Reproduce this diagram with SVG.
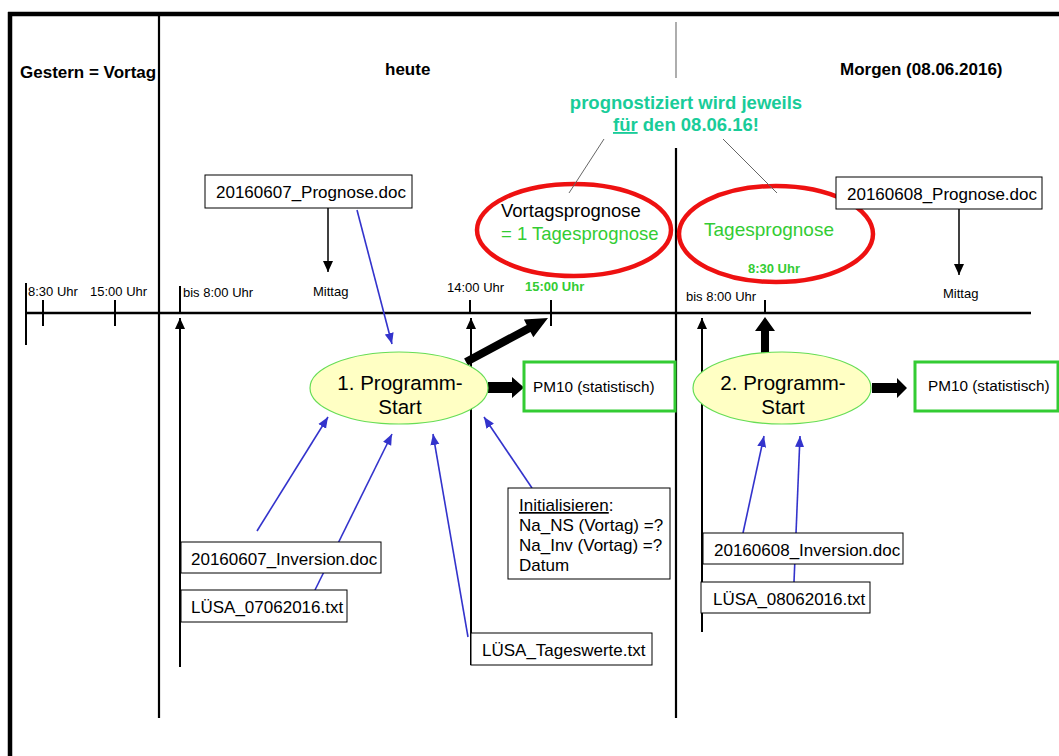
<svg xmlns="http://www.w3.org/2000/svg" width="1059" height="756" viewBox="0 0 1059 756">
  <defs>
    <marker id="arrowBlack" markerUnits="userSpaceOnUse" markerWidth="12" markerHeight="10" refX="11" refY="5" orient="auto">
      <path d="M0,0 L11,5 L0,10 Z" fill="#000"/>
    </marker>
    <marker id="arrowBlue" markerUnits="userSpaceOnUse" markerWidth="12" markerHeight="10" refX="11" refY="5" orient="auto">
      <path d="M0,0.5 L11,5 L0,9.5 Z" fill="#3333cc"/>
    </marker>
    <style>
      text { font-family: "Liberation Sans", Arial, sans-serif; fill: #000; }
      .hdr { font-size: 17px; font-weight: bold; }
      .time { font-size: 13px; }
      .file { font-size: 17px; }
      .greenBold { fill: #33cc33; font-weight: bold; font-size: 13px; }
      .teal { fill: #19cc99; font-weight: bold; font-size: 18.5px; }
      .box { fill: #fff; stroke: #000; stroke-width: 1; }
      .pm { fill: #fff; stroke: #33cc33; stroke-width: 3; }
      .prog { fill: #ffffc4; stroke: #66dd55; stroke-width: 1.2; }
      .red { fill: none; stroke: #ee1111; stroke-width: 4.5; }
      .blue { stroke: #3333cc; stroke-width: 1.6; fill: none; marker-end: url(#arrowBlue); }
      .thin { stroke: #666; stroke-width: 1; fill: none; }
    </style>
  </defs>

  <rect width="1059" height="756" fill="#fff"/>

  <!-- frame and day dividers -->
  <g id="frame" stroke="#000" fill="none">
    <line x1="8" y1="14" x2="1059" y2="14" stroke-width="4.5"/>
    <line x1="10" y1="12" x2="10" y2="756" stroke-width="4.5"/>
    <line x1="159" y1="14" x2="159" y2="718" stroke-width="2.2"/>
    <line x1="676" y1="22" x2="676" y2="78" stroke="#777" stroke-width="1.2"/>
    <line x1="676" y1="148" x2="676" y2="718" stroke-width="2.2"/>
  </g>

  <!-- day headings -->
  <g id="headings">
    <text class="hdr" x="20" y="78">Gestern = Vortag</text>
    <text class="hdr" x="385" y="75">heute</text>
    <text class="hdr" x="840" y="75">Morgen (08.06.2016)</text>
    <text class="teal" x="686" y="109" text-anchor="middle">prognostiziert wird jeweils</text>
    <text class="teal" x="686" y="131" text-anchor="middle"><tspan text-decoration="underline">für</tspan> den 08.06.16!</text>
  </g>

  <!-- time axis -->
  <g id="timeline" stroke="#000" fill="none">
    <line x1="25" y1="313" x2="1031" y2="313" stroke-width="2.5"/>
    <line x1="26" y1="283" x2="26" y2="345" stroke-width="2"/>
    <line x1="43" y1="300" x2="43" y2="326" stroke-width="2"/>
    <line x1="115" y1="300" x2="115" y2="326" stroke-width="2"/>
    <line x1="180" y1="286" x2="180" y2="313" stroke-width="2"/>
    <line x1="470" y1="300" x2="470" y2="313" stroke-width="2"/>
    <line x1="551" y1="300" x2="551" y2="326" stroke-width="2"/>
    <line x1="765" y1="300" x2="765" y2="313" stroke-width="2"/>
  </g>
  <g id="timeLabels">
    <text class="time" x="28" y="296">8:30 Uhr</text>
    <text class="time" x="90" y="296">15:00 Uhr</text>
    <text class="time" x="183" y="297">bis 8:00 Uhr</text>
    <text class="time" x="313" y="296">Mittag</text>
    <text class="time" x="447" y="292">14:00 Uhr</text>
    <text class="greenBold" x="525" y="291">15:00 Uhr</text>
    <text class="time" x="686" y="301">bis 8:00 Uhr</text>
    <text class="time" x="943" y="298">Mittag</text>
  </g>

  <!-- forecast callouts -->
  <g id="vortagsprognose">
    <ellipse class="red" cx="574" cy="230" rx="97" ry="46"/>
    <text x="501" y="217" font-size="18.5">Vortagsprognose</text>
    <text x="501" y="240" font-size="18.5" style="fill:#33cc33">= 1 Tagesprognose</text>
  </g>
  <g id="tagesprognose">
    <ellipse class="red" cx="776" cy="234" rx="97" ry="48"/>
    <text x="769" y="236" font-size="19" text-anchor="middle" style="fill:#33cc33">Tagesprognose</text>
    <text class="greenBold" x="774" y="273" text-anchor="middle" font-size="12.5">8:30 Uhr</text>
  </g>

  <!-- file and info boxes -->
  <g id="prognose0607">
    <rect class="box" x="205" y="175" width="207" height="33"/>
    <text class="file" x="216" y="198">20160607_Prognose.doc</text>
  </g>
  <g id="prognose0608">
    <rect class="box" x="836" y="177" width="206" height="32"/>
    <text class="file" x="847" y="200">20160608_Prognose.doc</text>
  </g>

  <!-- connectors -->
  <g id="connectors">
    <line x1="604" y1="139" x2="569" y2="193" class="thin"/>
    <line x1="723" y1="139" x2="777" y2="193" class="thin"/>
    <line x1="328" y1="208" x2="328" y2="272" stroke="#000" stroke-width="1.5" marker-end="url(#arrowBlack)"/>
    <line x1="959" y1="209" x2="959" y2="275" stroke="#000" stroke-width="1.5" marker-end="url(#arrowBlack)"/>
    <line x1="180" y1="667" x2="180" y2="318" stroke="#000" stroke-width="2" marker-end="url(#arrowBlack)"/>
    <line x1="471" y1="665" x2="471" y2="318" stroke="#000" stroke-width="2" marker-end="url(#arrowBlack)"/>
    <line x1="702" y1="632" x2="702" y2="318" stroke="#000" stroke-width="2" marker-end="url(#arrowBlack)"/>
    <polygon points="467.9,365.5 530.5,331.9 533.3,337.2 548,318 523.9,319.6 526.7,324.9 464.1,358.5" fill="#000"/>
    <polygon points="488,382 512,382 512,377 524,387.5 512,398 512,393 488,393" fill="#000"/>
    <polygon points="872,383 897,383 897,378 907,388 897,398 897,393 872,393" fill="#000"/>
    <polygon points="761,353 761,331 755,331 765,317 775,331 769,331 769,353" fill="#000"/>
    <line x1="357" y1="210" x2="392" y2="344" class="blue"/>
    <line x1="257" y1="531" x2="328" y2="417" class="blue"/>
    <line x1="315" y1="590" x2="392" y2="434" class="blue"/>
    <line x1="468" y1="637" x2="433" y2="434" class="blue"/>
    <line x1="532" y1="488" x2="484" y2="417" class="blue"/>
    <line x1="743" y1="533" x2="764" y2="436" class="blue"/>
    <line x1="794" y1="582" x2="800" y2="436" class="blue"/>
  </g>

  <g id="start1">
    <ellipse class="prog" cx="399" cy="388" rx="89" ry="36"/>
    <text x="400" y="390" font-size="20.5" text-anchor="middle">1. Programm-</text>
    <text x="400" y="414" font-size="20.5" text-anchor="middle">Start</text>
  </g>
  <g id="start2">
    <ellipse class="prog" cx="782" cy="388" rx="89" ry="36"/>
    <text x="783" y="390" font-size="20.5" text-anchor="middle">2. Programm-</text>
    <text x="783" y="414" font-size="20.5" text-anchor="middle">Start</text>
  </g>
  <g id="pm10a">
    <rect class="pm" x="524" y="362" width="151" height="49"/>
    <text x="533" y="392" font-size="15.3">PM10 (statistisch)</text>
  </g>
  <g id="pm10b">
    <rect class="pm" x="915" y="362" width="143" height="49"/>
    <text x="928" y="391" font-size="15.3">PM10 (statistisch)</text>
  </g>

  <g id="inversion0607">
    <rect class="box" x="181" y="542" width="200" height="31"/>
    <text class="file" x="191" y="565">20160607_Inversion.doc</text>
  </g>
  <g id="luesa0706">
    <rect class="box" x="181" y="590" width="166" height="32"/>
    <text class="file" x="191" y="613">LÜSA_07062016.txt</text>
  </g>
  <g id="initialisieren">
    <rect class="box" x="508" y="488" width="162" height="91"/>
    <text class="file" x="519" y="511"><tspan text-decoration="underline">Initialisieren</tspan>:</text>
    <text class="file" x="519" y="531">Na_NS (Vortag) =?</text>
    <text class="file" x="519" y="551">Na_Inv (Vortag) =?</text>
    <text class="file" x="519" y="571">Datum</text>
  </g>
  <g id="tageswerte">
    <rect class="box" x="471" y="633" width="181" height="32"/>
    <text class="file" x="482" y="656">LÜSA_Tageswerte.txt</text>
  </g>
  <g id="inversion0608">
    <rect class="box" x="703" y="533" width="200" height="31"/>
    <text class="file" x="714" y="556">20160608_Inversion.doc</text>
  </g>
  <g id="luesa0806">
    <rect class="box" x="701" y="582" width="169" height="31"/>
    <text class="file" x="713" y="605">LÜSA_08062016.txt</text>
  </g>
</svg>
